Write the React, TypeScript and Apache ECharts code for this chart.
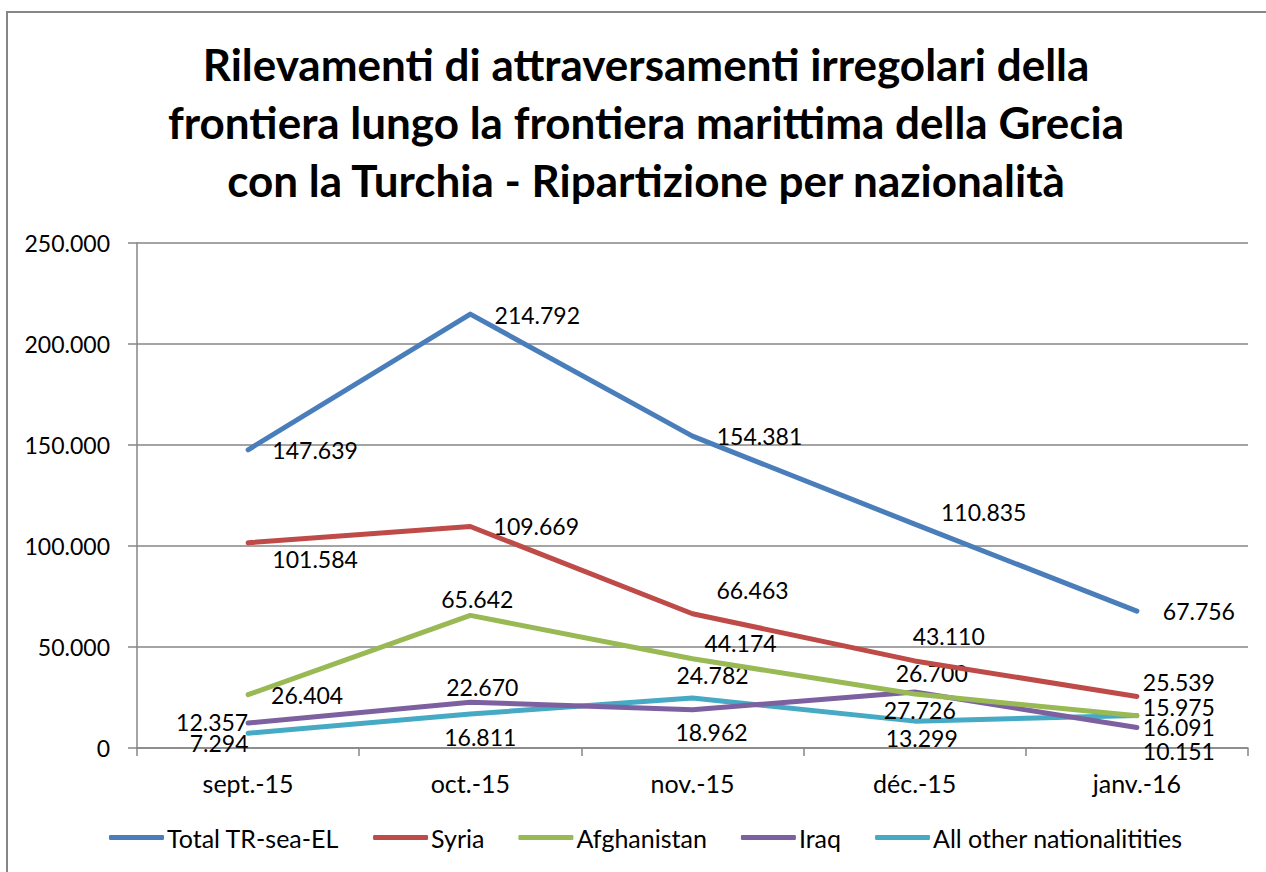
import React, { useEffect, useRef } from "react";
import * as echarts from "echarts";

const categories = ["sept.-15", "oct.-15", "nov.-15", "déc.-15", "janv.-16"];
const seriesNames = ["Total TR-sea-EL", "Syria", "Afghanistan", "Iraq", "All other nationalitities"];
const total = [147639, 214792, 154381, 110835, 67756];
const syria = [101584, 109669, 66463, 43110, 25539];
const afghanistan = [26404, 65642, 44174, 26700, 15975];
const iraq = [12357, 22670, 18962, 27726, 10151];
const others = [7294, 16811, 24782, 13299, 16091];
const yTicks = { min: 0, max: 250000, interval: 50000 };

const titleText =
  "Rilevamenti di attraversamenti irregolari della\nfrontiera lungo la frontiera marittima della Grecia\ncon la Turchia - Ripartizione per nazionalità";

// label placement (styling only): offset of label centre from the point, px
const labelOffsets: number[][][] = [
  [[67, 0], [67, 1], [67, 0], [69, -12], [62, 0]],
  [[67, 16], [66, 0], [60, -24], [34, -25], [42, -14]],
  [[59, 0], [7, -16], [48, -16], [17, -21], [42, -9]],
  [[-36, -1], [12, -15], [19, 22], [5, 18], [42, 24]],
  [[-29, 10], [10, 23], [20, -23], [7, 17], [42, 12]],
];
const colors = ["#4a7ebb", "#be4b48", "#98b954", "#7d60a0", "#46aac5"];

const fmt = (v: number) => String(v).replace(/\B(?=(\d{3})+(?!\d))/g, ".");
const FONT = "Lato";

export default function App() {
  const ref = useRef<HTMLDivElement>(null);
  useEffect(() => {
    document.body.style.margin = "0";
    const chart = echarts.init(ref.current!, null, { renderer: "svg" });
    const values = [total, syria, afghanistan, iraq, others];
    chart.setOption({
      animation: false,
      backgroundColor: "#ffffff",
      textStyle: { fontFamily: FONT },
      title: {
        text: titleText,
        left: 641,
        textAlign: "center",
        top: 30,
        textStyle: {
          fontFamily: FONT,
          fontWeight: "bold",
          fontSize: 44,
          lineHeight: 58,
          color: "#000",
        },
      },
      graphic: [
        {
          type: "rect",
          shape: { x: 7, y: 12, width: 1400, height: 1000 },
          style: { fill: "none", stroke: "#868686", lineWidth: 2 },
          silent: true,
        },
      ],
      legend: {
        left: 104,
        top: 820,
        itemWidth: 55,
        itemHeight: 5,
        itemGap: 34,
        icon: "roundRect",
        textStyle: { fontFamily: FONT, fontSize: 25, color: "#000", padding: [0, 0, 0, -2] },
        data: seriesNames,
      },
      grid: { left: 137, right: 18, top: 243, bottom: 124, containLabel: false },
      xAxis: {
        type: "category",
        data: categories,
        boundaryGap: true,
        axisLine: { show: true, lineStyle: { color: "#868686", width: 1.5 } },
        axisTick: { show: true, length: 8, alignWithLabel: false, lineStyle: { color: "#868686", width: 1.5 } },
        axisLabel: { fontFamily: FONT, fontSize: 25, color: "#000", margin: 22 },
        splitLine: { show: false },
      },
      yAxis: {
        type: "value",
        min: yTicks.min,
        max: yTicks.max,
        interval: yTicks.interval,
        axisLine: { show: true, lineStyle: { color: "#868686", width: 1.5 } },
        axisTick: { show: true, length: 9, lineStyle: { color: "#868686", width: 1.5 } },
        axisLabel: { fontFamily: FONT, fontSize: 23, color: "#000", margin: 27, formatter: (v: number) => fmt(v) },
        splitLine: { show: true, lineStyle: { color: "#868686", width: 1.5 } },
      },
      series: values.map((arr, si) => ({
        name: seriesNames[si],
        type: "line",
        symbol: "circle",
        symbolSize: 1,
        showSymbol: true,
        color: colors[si],
        lineStyle: { color: colors[si], width: 5, cap: "round", join: "round" },
        itemStyle: { color: colors[si] },
        z: 10 - si,
        label: {
          show: true,
          position: "inside",
          fontFamily: FONT,
          fontSize: 23,
          color: "#000",
          formatter: (p: any) => fmt(p.value),
        },
        data: arr.map((v, i) => ({
          value: v,
          label: { offset: labelOffsets[si][i] },
        })),
      })),
    });
    return () => chart.dispose();
  }, []);
  return <div ref={ref} style={{ width: 1266, height: 872 }} />;
}
